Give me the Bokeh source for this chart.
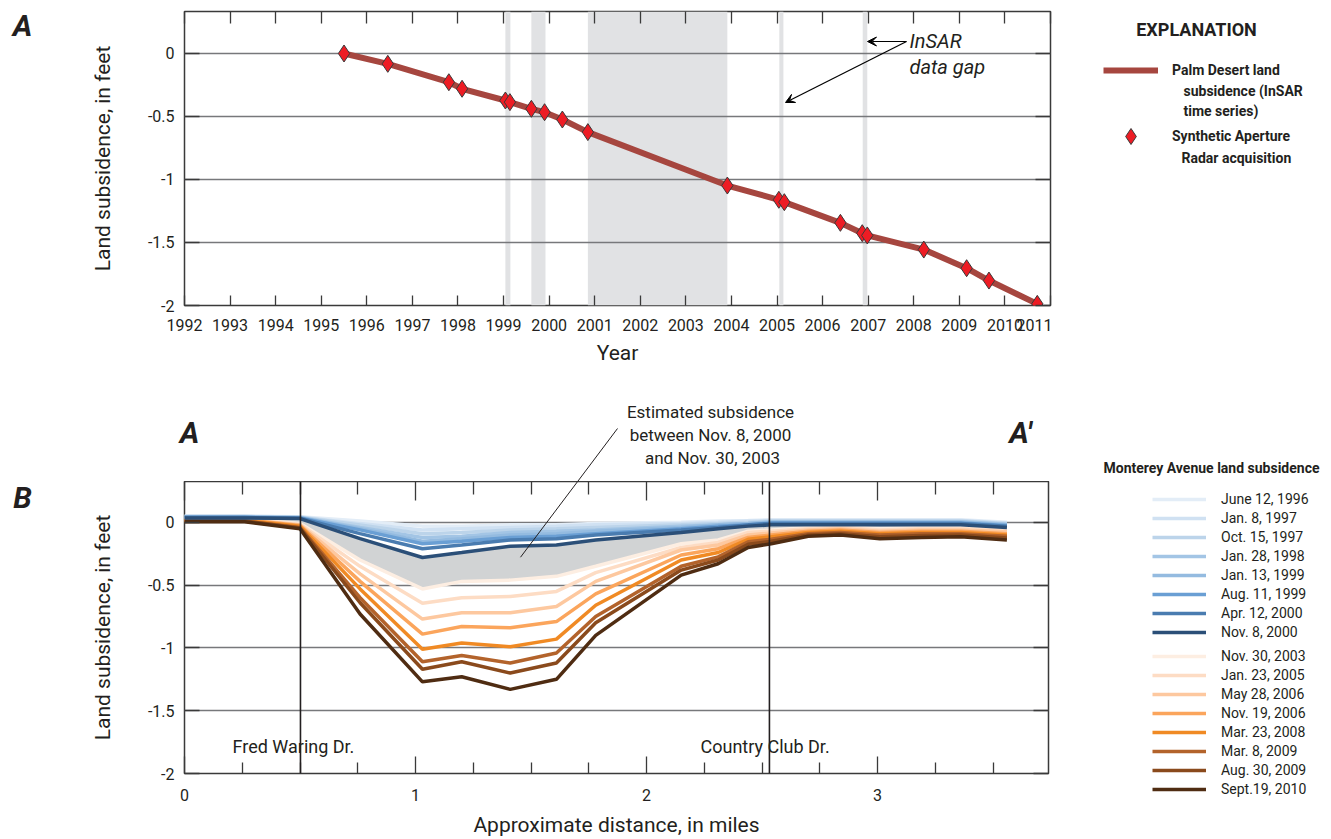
import numpy as np
from bokeh.plotting import figure
from bokeh.models import (Range1d, LinearAxis, FixedTicker, Label, Arrow, VeeHead,
                          BoxAnnotation, Span, Legend, LegendItem, CustomJSTickFormatter)
from bokeh.layouts import column, row
from bokeh.embed import file_html
from bokeh.resources import INLINE

FONT = "Roboto"
TXT = "#231f20"

# ---------------- Panel A data ----------------
acq_year = [1995.50, 1996.46, 1997.80, 1998.09, 1999.04, 1999.14, 1999.61, 1999.90,
            2000.29, 2000.85, 2003.91, 2005.04, 2005.16, 2006.39, 2006.87, 2006.98,
            2008.22, 2009.16, 2009.65, 2010.71]
acq_subsidence = [0.0, -0.082, -0.228, -0.28, -0.373, -0.386, -0.439, -0.466,
                  -0.524, -0.624, -1.048, -1.161, -1.18, -1.344, -1.426, -1.444,
                  -1.556, -1.704, -1.802, -1.987]
gap_start = [1999.04, 1999.61, 2000.85, 2005.05, 2006.88]
gap_end = [1999.15, 1999.92, 2003.91, 2005.14, 2006.98]
year_ticks = [1992, 1993, 1994, 1995, 1996, 1997, 1998, 1999, 2000, 2001,
              2002, 2003, 2004, 2005, 2006, 2007, 2008, 2009, 2010, 2011]
y_ticks = [0, -0.5, -1, -1.5, -2]
y_tick_labels = ["0", "-0.5", "-1", "-1.5", "-2"]

# ---------------- Panel B data ----------------
distance = [0, 0.26, 0.5, 0.76, 1.03, 1.2, 1.41, 1.61, 1.78, 2.15, 2.31, 2.44,
            2.54, 2.7, 2.84, 3.01, 3.19, 3.36, 3.56]
jun_12_1996 = [0.05, 0.05, 0.045, 0.01, -0.03, -0.03, -0.02, -0.02, -0.01, 0.0, 0.01, 0.015, 0.02, 0.02, 0.02, 0.02, 0.02, 0.02, 0.0]
jan_08_1997 = [0.048, 0.048, 0.043, -0.01, -0.06, -0.05, -0.04, -0.03, -0.02, -0.01, 0.0, 0.01, 0.015, 0.015, 0.015, 0.015, 0.015, 0.015, -0.005]
oct_15_1997 = [0.046, 0.046, 0.041, -0.02, -0.09, -0.08, -0.06, -0.05, -0.04, -0.02, -0.01, 0.0, 0.01, 0.01, 0.01, 0.01, 0.01, 0.01, -0.01]
jan_28_1998 = [0.044, 0.044, 0.039, -0.04, -0.12, -0.11, -0.08, -0.07, -0.06, -0.03, -0.02, -0.01, 0.005, 0.005, 0.005, 0.005, 0.005, 0.005, -0.015]
jan_13_1999 = [0.042, 0.042, 0.037, -0.05, -0.15, -0.13, -0.10, -0.09, -0.07, -0.04, -0.02, -0.01, 0.0, 0.0, 0.0, 0.0, 0.0, 0.0, -0.02]
aug_11_1999 = [0.04, 0.04, 0.035, -0.06, -0.17, -0.15, -0.12, -0.11, -0.09, -0.05, -0.03, -0.02, -0.005, -0.005, -0.005, -0.005, -0.005, -0.005, -0.025]
apr_12_2000 = [0.038, 0.038, 0.033, -0.09, -0.21, -0.18, -0.14, -0.13, -0.10, -0.06, -0.04, -0.02, -0.01, -0.01, -0.01, -0.01, -0.01, -0.01, -0.03]
nov_08_2000 = [0.035, 0.035, 0.03, -0.13, -0.28, -0.24, -0.19, -0.18, -0.14, -0.08, -0.05, -0.03, -0.02, -0.02, -0.02, -0.02, -0.02, -0.02, -0.04]
nov_30_2003 = [0.03, 0.03, -0.01, -0.30, -0.53, -0.47, -0.46, -0.43, -0.35, -0.17, -0.14, -0.07, -0.06, -0.04, -0.03, -0.05, -0.04, -0.04, -0.05]
jan_23_2005 = [0.025, 0.025, -0.015, -0.35, -0.645, -0.60, -0.59, -0.55, -0.40, -0.20, -0.16, -0.08, -0.07, -0.05, -0.04, -0.06, -0.05, -0.05, -0.06]
may_28_2006 = [0.02, 0.02, -0.02, -0.41, -0.77, -0.72, -0.72, -0.67, -0.47, -0.22, -0.18, -0.10, -0.085, -0.06, -0.05, -0.07, -0.06, -0.06, -0.075]
nov_19_2006 = [0.02, 0.02, -0.025, -0.47, -0.89, -0.83, -0.84, -0.79, -0.57, -0.26, -0.21, -0.12, -0.10, -0.07, -0.06, -0.08, -0.07, -0.07, -0.09]
mar_23_2008 = [0.015, 0.015, -0.03, -0.53, -1.01, -0.96, -0.99, -0.93, -0.66, -0.30, -0.24, -0.135, -0.115, -0.08, -0.07, -0.09, -0.08, -0.08, -0.10]
mar_08_2009 = [0.01, 0.01, -0.04, -0.60, -1.11, -1.06, -1.12, -1.04, -0.75, -0.35, -0.275, -0.155, -0.135, -0.09, -0.08, -0.10, -0.09, -0.09, -0.11]
aug_30_2009 = [0.01, 0.01, -0.045, -0.64, -1.17, -1.11, -1.20, -1.12, -0.80, -0.38, -0.30, -0.175, -0.15, -0.10, -0.09, -0.115, -0.105, -0.10, -0.125]
sep_19_2010 = [0.005, 0.005, -0.05, -0.73, -1.27, -1.23, -1.33, -1.25, -0.90, -0.42, -0.33, -0.20, -0.17, -0.11, -0.10, -0.13, -0.12, -0.115, -0.14]

early_names = ["June 12, 1996", "Jan. 8, 1997", "Oct. 15, 1997", "Jan. 28, 1998",
               "Jan. 13, 1999", "Aug. 11, 1999", "Apr. 12, 2000", "Nov. 8, 2000"]
early_series = [jun_12_1996, jan_08_1997, oct_15_1997, jan_28_1998,
                jan_13_1999, aug_11_1999, apr_12_2000, nov_08_2000]
early_colors = ["#e3edf7", "#d0e1f2", "#bcd4ea", "#a3c5e5", "#94bbe0", "#6a9fd4", "#4a7cb0", "#2b4f78"]
late_names = ["Nov. 30, 2003", "Jan. 23, 2005", "May 28, 2006", "Nov. 19, 2006",
              "Mar. 23, 2008", "Mar. 8, 2009", "Aug. 30, 2009", "Sept.19, 2010"]
late_series = [nov_30_2003, jan_23_2005, may_28_2006, nov_19_2006,
               mar_23_2008, mar_08_2009, aug_30_2009, sep_19_2010]
late_colors = ["#fdeee2", "#fddcc4", "#fdc89f", "#fba55c", "#f08a24", "#b3632b", "#8a4a1c", "#4f2c12"]

dist_ticks = [0, 1, 2, 3]
dist_tick_labels = ["0", "1", "2", "3"]
dist_minor = [0.25, 0.5, 0.75, 1.25, 1.5, 1.75, 2.25, 2.5, 2.75, 3.25, 3.5]
fred_waring_x = 0.502
country_club_x = 2.532

LINE_A = "#a6463f"
DIAMOND_FILL = "#ed1c24"
NAN = np.array([np.nan])   # legend-only renderers draw nothing themselves

# ---------------- page geometry (pixels) ----------------
W, H = 1331, 839
LEFT_W = 60                       # strip holding the panel letters
A_L, A_R, A_T, A_B = 184, 1050, 11, 305
HA = 385
B_L, B_R, B_T, B_B = 184, 1048, 481, 774
B_TOP_H = B_T - HA                # strip above panel B frame
HB = H - B_T
AX0, AX1, AY0, AY1 = 1992, 2011, -2.0, 0.3333
BX0, BX1, BY0, BY1 = 0.0, 3.74, -2.0, 0.3254


def a_xy(px, py):
    return (AX0 + (px - A_L) / (A_R - A_L) * (AX1 - AX0),
            AY1 - (py - A_T) / (A_B - A_T) * (AY1 - AY0))


def b_xy(px, py):
    return (BX0 + (px - B_L) / (B_R - B_L) * (BX1 - BX0),
            BY1 - (py - B_T) / (B_B - B_T) * (BY1 - BY0))


def canvas(w, h, ox, oy):
    c = figure(width=w, height=h, x_range=Range1d(ox, ox + w), y_range=Range1d(oy + h, oy),
               x_axis_type=None, y_axis_type=None, output_backend="svg",
               toolbar_location=None, min_border=0, min_border_left=0, min_border_right=0,
               min_border_top=0, min_border_bottom=0, outline_line_color=None,
               frame_align=False)
    return c


def lab(p, conv, px, py, text, size="17px", style="normal", align="left", color=TXT):
    x, y = conv(px, py)
    p.add_layout(Label(x=x, y=y, text=text, text_font=FONT, text_font_size=size,
                       text_font_style=style, text_align=align, text_baseline="middle",
                       text_color=color))


def ident(px, py):
    return px, py


def hidden_axis(ticks, minor, maj_in, min_in):
    return LinearAxis(ticker=FixedTicker(ticks=ticks, minor_ticks=minor),
                      formatter=CustomJSTickFormatter(code="return ''"),
                      major_label_text_font_size="0px",
                      axis_line_color=None, major_tick_out=0, minor_tick_out=0,
                      major_tick_in=maj_in, minor_tick_in=min_in,
                      major_tick_line_color="#3a3a3a", minor_tick_line_color="#3a3a3a",
                      major_tick_line_width=1.3, minor_tick_line_width=1.3,
                      major_label_standoff=0)


def style_axes(p, xt, xlabels, yt, ylabels, xlabel, ylabel, xminor, xmaj_in, xmin_in,
               xstand, xlstand):
    p.xaxis.ticker = FixedTicker(ticks=xt, minor_ticks=xminor)
    p.xaxis.major_label_overrides = dict(zip(xt, xlabels))
    p.yaxis.ticker = FixedTicker(ticks=yt, minor_ticks=[])
    p.yaxis.major_label_overrides = dict(zip(yt, ylabels))
    for ax in (p.xaxis[0], p.yaxis[0]):
        ax.axis_line_color = None
        ax.major_tick_out = 0
        ax.minor_tick_out = 0
        ax.major_tick_line_color = "#3a3a3a"
        ax.minor_tick_line_color = "#3a3a3a"
        ax.major_tick_line_width = 1.3
        ax.minor_tick_line_width = 1.3
        ax.major_label_text_font = FONT
        ax.major_label_text_font_size = "16px"
        ax.major_label_text_color = TXT
        ax.axis_label_text_font = FONT
        ax.axis_label_text_font_size = "21px"
        ax.axis_label_text_font_style = "normal"
        ax.axis_label_text_color = TXT
    p.xaxis.major_tick_in = xmaj_in
    p.xaxis.minor_tick_in = xmin_in
    p.yaxis.major_tick_in = 15
    p.xaxis.axis_label = xlabel
    p.yaxis.axis_label = ylabel
    p.xaxis.major_label_standoff = xstand
    p.xaxis.axis_label_standoff = xlstand
    p.yaxis.major_label_standoff = 10
    p.yaxis.axis_label_standoff = 30
    p.add_layout(hidden_axis(xt, xminor, xmaj_in + 2, xmin_in + 2), "above")
    p.add_layout(hidden_axis(yt, [], 15, 0), "right")
    p.xgrid.visible = False
    p.ygrid.ticker = FixedTicker(ticks=yt, minor_ticks=[])
    p.ygrid.grid_line_color = "#77787b"
    p.ygrid.grid_line_width = 1.3
    p.outline_line_color = "#3a3a3a"
    p.outline_line_width = 1.5


# ================= Panel A =================
pa = figure(width=A_R + 2 - LEFT_W, height=HA, x_range=Range1d(AX0, AX1), y_range=Range1d(AY0, AY1),
            output_backend="svg", toolbar_location=None, frame_align=False,
            min_border_left=A_L - LEFT_W, min_border_right=2,
            min_border_top=A_T, min_border_bottom=HA - A_B)
style_axes(pa, year_ticks, [str(y) for y in year_ticks], y_ticks, y_tick_labels,
           "Year", "Land subsidence, in feet", [], 10, 0, 13, 7)

for g0, g1 in zip(gap_start, gap_end):
    pa.add_layout(BoxAnnotation(left=g0, right=g1, fill_color="#e1e2e4", fill_alpha=1.0,
                                line_color=None, level="image"))

pa.line(acq_year, acq_subsidence, line_width=6, line_color=LINE_A)
pa.scatter(acq_year, acq_subsidence, marker="diamond", size=17,
           fill_color=DIAMOND_FILL, line_color="#3a3a3a", line_width=1)

lab(pa, a_xy, 909, 40, "InSAR", size="20px", style="italic")
lab(pa, a_xy, 909, 66, "data gap", size="20px", style="italic")
x0, y0 = a_xy(906, 41)
x1, y1 = a_xy(867, 41)
pa.add_layout(Arrow(end=VeeHead(size=9, fill_color="black", line_color="black", line_width=1),
                    x_start=x0, y_start=y0, x_end=x1, y_end=y1, line_width=1.2))
x1, y1 = a_xy(785, 102)
pa.add_layout(Arrow(end=VeeHead(size=9, fill_color="black", line_color="black", line_width=1),
                    x_start=x0, y_start=y0, x_end=x1, y_end=y1, line_width=1.2))

# left strip of panel A
ca_left = canvas(LEFT_W, HA, 0, 0)
lab(ca_left, ident, 22, 25, "A", size="30px", style="bold italic", align="center")

# explanation of panel A
RA0 = A_R + 2
ca_right = canvas(W - RA0, HA, RA0, 0)
leg_line = ca_right.line(x=NAN, y=NAN, line_width=6, line_color=LINE_A)
leg_dia = ca_right.scatter(x=NAN, y=NAN, marker="diamond", size=15, fill_color=DIAMOND_FILL,
                           line_color="#3a3a3a", line_width=1)
ca_right.add_layout(Legend(items=[LegendItem(label="Palm Desert land", renderers=[leg_line]),
                                  LegendItem(label="Synthetic Aperture", renderers=[leg_dia])],
                           location=(1103 - RA0, HA - 156), glyph_width=55, glyph_height=40,
                           label_height=40, spacing=26, padding=0, margin=0, label_standoff=14,
                           border_line_alpha=0, background_fill_alpha=0,
                           label_text_font=FONT, label_text_font_style="bold",
                           label_text_font_size="14px", label_text_color=TXT))
lab(ca_right, ident, 1196, 29, "EXPLANATION", size="18px", style="bold", align="center")
lab(ca_right, ident, 1183, 90, "subsidence (InSAR", size="14px", style="bold")
lab(ca_right, ident, 1183, 110, "time series)", size="14px", style="bold")
lab(ca_right, ident, 1181, 157, "Radar acquisition", size="14px", style="bold")

# ================= strip above panel B =================
cb_top = canvas(W, B_TOP_H, 0, HA)
lab(cb_top, ident, 189, 432, "A", size="30px", style="bold italic", align="center")
lab(cb_top, ident, 1020, 432, "A\u2032", size="30px", style="bold italic", align="center")
lab(cb_top, ident, 710, 411, "Estimated subsidence", align="center")
lab(cb_top, ident, 710, 434, "between Nov. 8, 2000", align="center")
lab(cb_top, ident, 712, 457, "and Nov. 30, 2003", align="center")
lab(cb_top, ident, 1103, 467, "Monterey Avenue land subsidence", size="14px", style="bold")
cb_top.add_layout(Arrow(end=None, x_start=617, y_start=428, x_end=520, y_end=557,
                        line_width=1, line_color=TXT))

# ================= Panel B =================
pb = figure(width=B_R + 2 - LEFT_W, height=HB, x_range=Range1d(BX0, BX1), y_range=Range1d(BY0, BY1),
            output_backend="svg", toolbar_location=None, frame_align=False,
            min_border_left=B_L - LEFT_W, min_border_right=2,
            min_border_top=0, min_border_bottom=H - B_B)
style_axes(pb, dist_ticks, dist_tick_labels, y_ticks, y_tick_labels,
           "Approximate distance, in miles", "Land subsidence, in feet", dist_minor, 17, 11, 15, 9)

pb.varea(x=distance, y1=nov_08_2000, y2=nov_30_2003, fill_color="#d1d3d4")
for s, c in zip(late_series, late_colors):
    pb.line(distance, s, line_width=3.5, line_color=c)
for s, c in zip(early_series, early_colors):
    pb.line(distance, s, line_width=3.5, line_color=c)

pb.add_layout(Span(location=fred_waring_x, dimension="height", line_color=TXT, line_width=1.6))
pb.add_layout(Span(location=country_club_x, dimension="height", line_color=TXT, line_width=1.6))
lab(pb, b_xy, 232, 747, "Fred Waring Dr.", size="18px")
lab(pb, b_xy, 700, 747, "Country Club Dr.", size="18px")
x0, y0 = b_xy(617, 428)
x1, y1 = b_xy(520, 557)
pb.add_layout(Arrow(end=None, x_start=x0, y_start=y0, x_end=x1, y_end=y1,
                    line_width=1, line_color=TXT))

cb_left = canvas(LEFT_W, HB, 0, B_T)
lab(cb_left, ident, 22, 497, "B", size="30px", style="bold italic", align="center")

# legend of panel B
RB0 = B_R + 2
cb_right = canvas(W - RB0, HB, RB0, B_T)
ROW_H, ROW_GAP = 16, 3


def leg_b(names, colors, top_px):
    items = []
    for n, c in zip(names, colors):
        r = cb_right.line(x=NAN, y=NAN, line_width=3.5, line_color=c)
        items.append(LegendItem(label=n, renderers=[r]))
    height = len(names) * ROW_H + (len(names) - 1) * ROW_GAP
    return Legend(items=items, location=(1152 - RB0, H - (top_px + height)),
                  glyph_width=54, glyph_height=ROW_H, label_height=ROW_H, spacing=ROW_GAP,
                  padding=0, margin=0, label_standoff=15, border_line_alpha=0,
                  background_fill_alpha=0, label_text_font=FONT,
                  label_text_font_size="14px", label_text_color=TXT)


cb_right.add_layout(leg_b(early_names, early_colors, 491))
cb_right.add_layout(leg_b(late_names, late_colors, 648))

layout = column(row(ca_left, pa, ca_right), cb_top, row(cb_left, pb, cb_right))
open("out.html", "w").write(file_html(layout, INLINE))
